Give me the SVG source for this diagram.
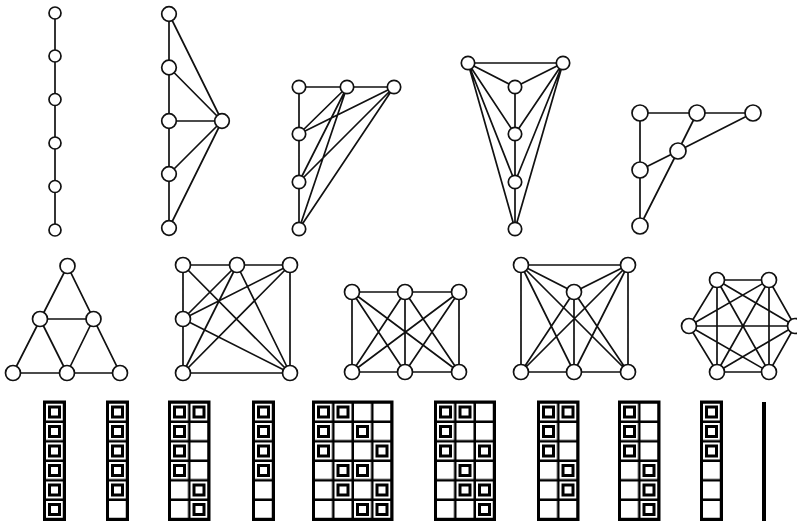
<svg xmlns="http://www.w3.org/2000/svg" xmlns:xlink="http://www.w3.org/1999/xlink" width="797" height="521" viewBox="0 0 797 521">
<style>
.e{stroke:#111;stroke-width:1.7;fill:none;stroke-linecap:round}
.n{fill:#fff;stroke:#111;stroke-width:1.7}
.frame{fill:#000}
.ring{fill:none;stroke:#000;stroke-width:3}
</style>
<defs>
<pattern id="cells" patternUnits="userSpaceOnUse" x="0" y="0" width="19.5" height="19.5">
<rect x="0" y="0" width="17" height="17" fill="#fff"/>
</pattern>
<rect id="ring" class="ring" x="3.5" y="3.5" width="10" height="10"/>
</defs>
<rect width="797" height="521" fill="#fff"/>
<g id="connectors">
<g id="e-g1"><path class="e" d="M55,13V230"/></g>
<g id="e-g2"><path class="e" d="M169,14V228M169,14L222,121M169,67.5L222,121M169,121H222M169,174L222,121M169,228L222,121"/></g>
<g id="e-g3"><path class="e" d="M299,87H394M299,87V229M347,87L299,134M347,87L299,182M347,87L299,229M394,87L299,134M394,87L299,182M394,87L299,229"/></g>
<g id="e-g4"><path class="e" d="M468,63H563M515,87V229M468,63L515,87M468,63L515,134M468,63L515,182M468,63L515,229M563,63L515,87M563,63L515,134M563,63L515,182M563,63L515,229"/></g>
<g id="e-g5"><path class="e" d="M640,113H753M640,113V226M697,113L678,151M753,113L678,151M678,151L640,170M678,151L640,226"/></g>
<g id="e-g6"><path class="e" d="M67.5,266L13,373H120ZM40,319H93.5M40,319L67,373M93.5,319L67,373"/></g>
<g id="e-g7"><path class="e" d="M183,265H290V373H183ZM183,265L290,373M237,265L183,319M237,265L183,373M237,265L290,373M290,265L183,319M290,265L183,373M183,319L290,373"/></g>
<g id="e-g8"><path class="e" d="M352,292H459V372H352ZM405,292V372M352,292L405,372M352,292L459,372M405,292L352,372M405,292L459,372M459,292L352,372M459,292L405,372"/></g>
<g id="e-g9"><path class="e" d="M521,265H628V372H521ZM574,292V372M521,265L574,292L628,265M574,292L521,372M574,292L628,372M521,265L574,372M521,265L628,372M628,265L521,372M628,265L574,372"/></g>
<g id="e-g10"><path class="e" d="M717,280L769,280L795,326L769,372L717,372L689,326ZM717,280L795,326M717,280L769,372M717,280L717,372M769,280L689,326M769,280L717,372M769,280L769,372M689,326L795,326M689,326L769,372M795,326L717,372"/></g>
</g>
<g id="graph1">
<circle id="g1n1" class="n" cx="55" cy="13" r="6"/>
<circle id="g1n2" class="n" cx="55" cy="56" r="6"/>
<circle id="g1n3" class="n" cx="55" cy="99.5" r="6"/>
<circle id="g1n4" class="n" cx="55" cy="143" r="6"/>
<circle id="g1n5" class="n" cx="55" cy="186.5" r="6"/>
<circle id="g1n6" class="n" cx="55" cy="230" r="6"/>
</g>
<g id="graph2">
<circle id="g2n1" class="n" cx="169" cy="14" r="7.3"/>
<circle id="g2n2" class="n" cx="169" cy="67.5" r="7.3"/>
<circle id="g2n3" class="n" cx="169" cy="121" r="7.3"/>
<circle id="g2n4" class="n" cx="169" cy="174" r="7.3"/>
<circle id="g2n5" class="n" cx="169" cy="228" r="7.3"/>
<circle id="g2n6" class="n" cx="222" cy="121" r="7.3"/>
</g>
<g id="graph3">
<circle id="g3n1" class="n" cx="299" cy="87" r="6.7"/>
<circle id="g3n2" class="n" cx="347" cy="87" r="6.7"/>
<circle id="g3n3" class="n" cx="394" cy="87" r="6.7"/>
<circle id="g3n4" class="n" cx="299" cy="134" r="6.7"/>
<circle id="g3n5" class="n" cx="299" cy="182" r="6.7"/>
<circle id="g3n6" class="n" cx="299" cy="229" r="6.7"/>
</g>
<g id="graph4">
<circle id="g4n1" class="n" cx="468" cy="63" r="6.7"/>
<circle id="g4n2" class="n" cx="563" cy="63" r="6.7"/>
<circle id="g4n3" class="n" cx="515" cy="87" r="6.7"/>
<circle id="g4n4" class="n" cx="515" cy="134" r="6.7"/>
<circle id="g4n5" class="n" cx="515" cy="182" r="6.7"/>
<circle id="g4n6" class="n" cx="515" cy="229" r="6.7"/>
</g>
<g id="graph5">
<circle id="g5n1" class="n" cx="640" cy="113" r="8"/>
<circle id="g5n2" class="n" cx="697" cy="113" r="8"/>
<circle id="g5n3" class="n" cx="753" cy="113" r="8"/>
<circle id="g5n4" class="n" cx="678" cy="151" r="8"/>
<circle id="g5n5" class="n" cx="640" cy="170" r="8"/>
<circle id="g5n6" class="n" cx="640" cy="226" r="8"/>
</g>
<g id="graph6">
<circle id="g6n1" class="n" cx="67.5" cy="266" r="7.5"/>
<circle id="g6n2" class="n" cx="40" cy="319" r="7.5"/>
<circle id="g6n3" class="n" cx="93.5" cy="319" r="7.5"/>
<circle id="g6n4" class="n" cx="13" cy="373" r="7.5"/>
<circle id="g6n5" class="n" cx="67" cy="373" r="7.5"/>
<circle id="g6n6" class="n" cx="120" cy="373" r="7.5"/>
</g>
<g id="graph7">
<circle id="g7n1" class="n" cx="183" cy="265" r="7.5"/>
<circle id="g7n2" class="n" cx="237" cy="265" r="7.5"/>
<circle id="g7n3" class="n" cx="290" cy="265" r="7.5"/>
<circle id="g7n4" class="n" cx="183" cy="319" r="7.5"/>
<circle id="g7n5" class="n" cx="183" cy="373" r="7.5"/>
<circle id="g7n6" class="n" cx="290" cy="373" r="7.5"/>
</g>
<g id="graph8">
<circle id="g8n1" class="n" cx="352" cy="292" r="7.5"/>
<circle id="g8n2" class="n" cx="405" cy="292" r="7.5"/>
<circle id="g8n3" class="n" cx="459" cy="292" r="7.5"/>
<circle id="g8n4" class="n" cx="352" cy="372" r="7.5"/>
<circle id="g8n5" class="n" cx="405" cy="372" r="7.5"/>
<circle id="g8n6" class="n" cx="459" cy="372" r="7.5"/>
</g>
<g id="graph9">
<circle id="g9n1" class="n" cx="521" cy="265" r="7.5"/>
<circle id="g9n2" class="n" cx="628" cy="265" r="7.5"/>
<circle id="g9n3" class="n" cx="574" cy="292" r="7.5"/>
<circle id="g9n4" class="n" cx="521" cy="372" r="7.5"/>
<circle id="g9n5" class="n" cx="574" cy="372" r="7.5"/>
<circle id="g9n6" class="n" cx="628" cy="372" r="7.5"/>
</g>
<g id="graph10">
<circle id="g10n1" class="n" cx="717" cy="280" r="7.5"/>
<circle id="g10n2" class="n" cx="769" cy="280" r="7.5"/>
<circle id="g10n3" class="n" cx="689" cy="326" r="7.5"/>
<circle id="g10n4" class="n" cx="795" cy="326" r="7.5"/>
<circle id="g10n5" class="n" cx="717" cy="372" r="7.5"/>
<circle id="g10n6" class="n" cx="769" cy="372" r="7.5"/>
</g>
<g id="grid1" transform="translate(46,403.5)">
<rect class="frame" x="-3" y="-3" width="23" height="120.5"/>
<rect x="0" y="0" width="17" height="114.5" fill="url(#cells)"/>
<use xlink:href="#ring" x="0" y="0"/><use xlink:href="#ring" x="0" y="19.5"/><use xlink:href="#ring" x="0" y="39"/><use xlink:href="#ring" x="0" y="58.5"/><use xlink:href="#ring" x="0" y="78"/><use xlink:href="#ring" x="0" y="97.5"/>
</g>
<g id="grid2" transform="translate(109,403.5)">
<rect class="frame" x="-3" y="-3" width="23" height="120.5"/>
<rect x="0" y="0" width="17" height="114.5" fill="url(#cells)"/>
<use xlink:href="#ring" x="0" y="0"/><use xlink:href="#ring" x="0" y="19.5"/><use xlink:href="#ring" x="0" y="39"/><use xlink:href="#ring" x="0" y="58.5"/><use xlink:href="#ring" x="0" y="78"/>
</g>
<g id="grid3" transform="translate(171,403.5)">
<rect class="frame" x="-3" y="-3" width="42.5" height="120.5"/>
<rect x="0" y="0" width="36.5" height="114.5" fill="url(#cells)"/>
<use xlink:href="#ring" x="0" y="0"/><use xlink:href="#ring" x="19.5" y="0"/><use xlink:href="#ring" x="0" y="19.5"/><use xlink:href="#ring" x="0" y="39"/><use xlink:href="#ring" x="0" y="58.5"/><use xlink:href="#ring" x="19.5" y="78"/><use xlink:href="#ring" x="19.5" y="97.5"/>
</g>
<g id="grid4" transform="translate(255,403.5)">
<rect class="frame" x="-3" y="-3" width="23" height="120.5"/>
<rect x="0" y="0" width="17" height="114.5" fill="url(#cells)"/>
<use xlink:href="#ring" x="0" y="0"/><use xlink:href="#ring" x="0" y="19.5"/><use xlink:href="#ring" x="0" y="39"/><use xlink:href="#ring" x="0" y="58.5"/>
</g>
<g id="grid5" transform="translate(315,403.5)">
<rect class="frame" x="-3" y="-3" width="81.5" height="120.5"/>
<rect x="0" y="0" width="75.5" height="114.5" fill="url(#cells)"/>
<use xlink:href="#ring" x="0" y="0"/><use xlink:href="#ring" x="19.5" y="0"/>
<use xlink:href="#ring" x="0" y="19.5"/><use xlink:href="#ring" x="39" y="19.5"/>
<use xlink:href="#ring" x="0" y="39"/><use xlink:href="#ring" x="58.5" y="39"/>
<use xlink:href="#ring" x="19.5" y="58.5"/><use xlink:href="#ring" x="39" y="58.5"/>
<use xlink:href="#ring" x="19.5" y="78"/><use xlink:href="#ring" x="58.5" y="78"/>
<use xlink:href="#ring" x="39" y="97.5"/><use xlink:href="#ring" x="58.5" y="97.5"/>
</g>
<g id="grid6" transform="translate(437,403.5)">
<rect class="frame" x="-3" y="-3" width="62" height="120.5"/>
<rect x="0" y="0" width="56" height="114.5" fill="url(#cells)"/>
<use xlink:href="#ring" x="0" y="0"/><use xlink:href="#ring" x="19.5" y="0"/>
<use xlink:href="#ring" x="0" y="19.5"/>
<use xlink:href="#ring" x="0" y="39"/><use xlink:href="#ring" x="39" y="39"/>
<use xlink:href="#ring" x="19.5" y="58.5"/>
<use xlink:href="#ring" x="19.5" y="78"/><use xlink:href="#ring" x="39" y="78"/>
<use xlink:href="#ring" x="39" y="97.5"/>
</g>
<g id="grid7" transform="translate(540,403.5)">
<rect class="frame" x="-3" y="-3" width="42.5" height="120.5"/>
<rect x="0" y="0" width="36.5" height="114.5" fill="url(#cells)"/>
<use xlink:href="#ring" x="0" y="0"/><use xlink:href="#ring" x="19.5" y="0"/><use xlink:href="#ring" x="0" y="19.5"/><use xlink:href="#ring" x="0" y="39"/><use xlink:href="#ring" x="19.5" y="58.5"/><use xlink:href="#ring" x="19.5" y="78"/>
</g>
<g id="grid8" transform="translate(621,403.5)">
<rect class="frame" x="-3" y="-3" width="42.5" height="120.5"/>
<rect x="0" y="0" width="36.5" height="114.5" fill="url(#cells)"/>
<use xlink:href="#ring" x="0" y="0"/><use xlink:href="#ring" x="0" y="19.5"/><use xlink:href="#ring" x="0" y="39"/><use xlink:href="#ring" x="19.5" y="58.5"/><use xlink:href="#ring" x="19.5" y="78"/><use xlink:href="#ring" x="19.5" y="97.5"/>
</g>
<g id="grid9" transform="translate(703,403.5)">
<rect class="frame" x="-3" y="-3" width="23" height="120.5"/>
<rect x="0" y="0" width="17" height="114.5" fill="url(#cells)"/>
<use xlink:href="#ring" x="0" y="0"/><use xlink:href="#ring" x="0" y="19.5"/><use xlink:href="#ring" x="0" y="39"/>
</g>
<g id="grid10">
<rect class="frame" x="762" y="402" width="4" height="119"/>
</g>
</svg>
